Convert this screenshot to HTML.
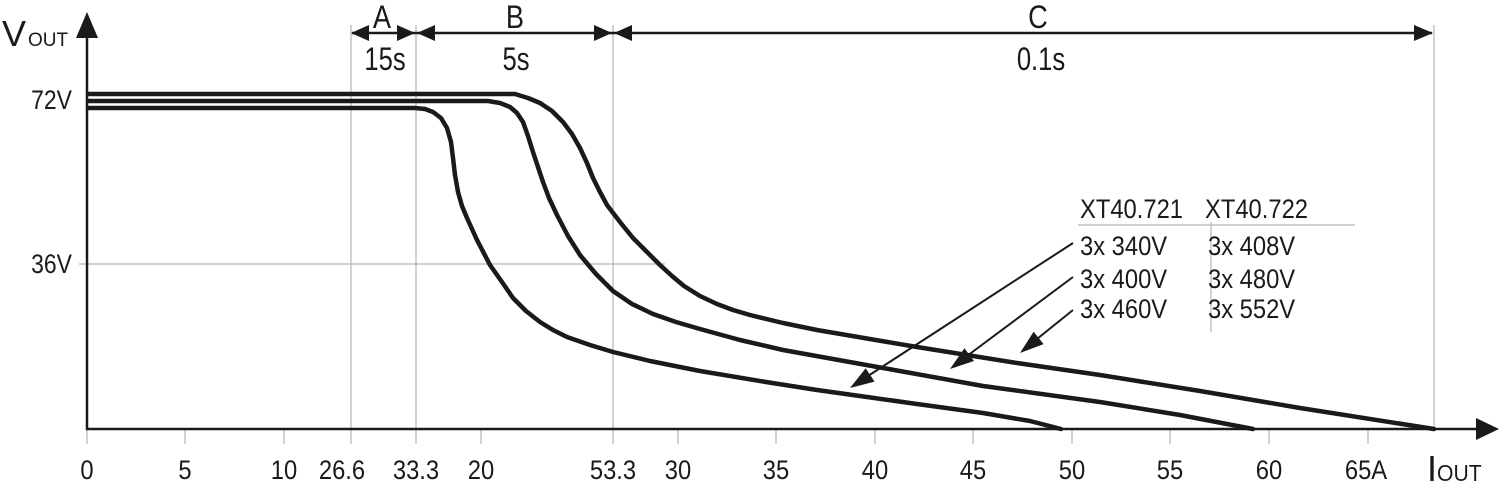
<!DOCTYPE html>
<html>
<head>
<meta charset="utf-8">
<style>
html,body{margin:0;padding:0;background:#fff;}
svg{display:block;}
text{font-family:"Liberation Sans",sans-serif;fill:#1a1a1a;}
</style>
</head>
<body>
<svg width="1500" height="495" viewBox="0 0 1500 495" xmlns="http://www.w3.org/2000/svg">
<rect width="1500" height="495" fill="#fff"/>

<!-- gray grid/reference lines -->
<g stroke="#b4b4b4" stroke-width="1.2" fill="none">
  <line x1="351" y1="25" x2="351" y2="444"/>
  <line x1="416" y1="25" x2="416" y2="444"/>
  <line x1="613" y1="25" x2="613" y2="444"/>
  <line x1="1434" y1="25" x2="1434" y2="429"/>
  <line x1="79" y1="264" x2="665" y2="264"/>
  <!-- ticks -->
  <line x1="87" y1="429" x2="87" y2="444"/>
  <line x1="185" y1="429" x2="185" y2="444"/>
  <line x1="284" y1="429" x2="284" y2="444"/>
  <line x1="481" y1="429" x2="481" y2="444"/>
  <line x1="678" y1="429" x2="678" y2="444"/>
  <line x1="776" y1="429" x2="776" y2="444"/>
  <line x1="875" y1="429" x2="875" y2="444"/>
  <line x1="973" y1="429" x2="973" y2="444"/>
  <line x1="1072" y1="429" x2="1072" y2="444"/>
  <line x1="1170" y1="429" x2="1170" y2="444"/>
  <line x1="1269" y1="429" x2="1269" y2="444"/>
  <line x1="1368" y1="429" x2="1368" y2="444"/>
  <!-- legend lines -->
  <line x1="1078" y1="225" x2="1355" y2="225"/>
  <line x1="1211" y1="222" x2="1211" y2="332"/>
</g>

<!-- axes -->
<g stroke="#1a1a1a" stroke-width="2.5" fill="none">
  <line x1="87" y1="34" x2="87" y2="430"/>
  <line x1="86" y1="429" x2="1480" y2="429"/>
</g>
<polygon points="87,12 76,38 98,38" fill="#1a1a1a"/>
<polygon points="1499,429 1476,418 1476,440" fill="#1a1a1a"/>

<!-- dimension arrows -->
<line x1="352" y1="33" x2="1432" y2="33" stroke="#1a1a1a" stroke-width="2.5"/>
<g fill="#1a1a1a">
  <polygon points="351,33 369,25 369,41"/>
  <polygon points="415,33 397,25 397,41"/>
  <polygon points="417,33 435,25 435,41"/>
  <polygon points="612,33 594,25 594,41"/>
  <polygon points="614,33 632,25 632,41"/>
  <polygon points="1433,33 1414,25 1414,41"/>
</g>

<!-- curves -->
<g stroke="#1a1a1a" stroke-width="4.5" fill="none" stroke-linejoin="round" stroke-linecap="round">
  <polyline points="88,108 415,108 425,109 433,112 441,118 447,128 451,142 453,158 455,175 458,192 462,206 467,218 477,240 490,265 502,282 513,298 526,311 540,322 553,330 567,337 590,345 613,352 650,361 700,371 766,382 817,390 867,397 917,404 983,413 1030,421 1061,429"/>
  <polyline points="88,101 488,101 500,103 510,107 517,113 523,122 528,136 533,152 538,167 543,182 549,198 557,215 568,236 580,255 596,274 613,291 632,304 653,314 676,322 700,329 740,340 783,350 883,368 983,386 1100,402 1180,415 1253,429"/>
  <polyline points="88,94 515,94 528,98 540,103 552,111 563,122 572,134 580,148 587,163 593,178 600,192 607,205 620,222 633,238 647,252 660,265 672,276 684,286 700,296 717,304 733,310 750,315 783,323 817,330 917,347 1017,363 1100,375 1200,391 1300,408 1434,429"/>
</g>

<!-- pointer arrows -->
<g stroke="#1a1a1a" stroke-width="2" fill="none">
  <line x1="1073" y1="243" x2="868" y2="376"/>
  <line x1="1073" y1="277" x2="967" y2="356"/>
  <line x1="1073" y1="310" x2="1037" y2="339"/>
</g>
<g fill="#1a1a1a">
  <polygon points="850,388 874.5,381.6 865.7,368.2"/>
  <polygon points="950,369 974,361 964.4,348.2"/>
  <polygon points="1020,353 1043.6,344.1 1033.6,331.7"/>
</g>

<!-- axis titles -->
<text x="2" y="46" font-size="36">V</text>
<text x="28" y="46" font-size="19">OUT</text>
<text x="1427" y="481" font-size="36">I</text>
<text transform="translate(1437,481) scale(0.92,1)" font-size="23">OUT</text>

<!-- y labels -->
<text transform="translate(72,109) scale(0.85,1)" font-size="27" text-anchor="end">72V</text>
<text transform="translate(72,273) scale(0.85,1)" font-size="27" text-anchor="end">36V</text>

<!-- dimension labels -->
<text transform="translate(382,28) scale(0.85,1)" font-size="32" text-anchor="middle">A</text>
<text transform="translate(515,28) scale(0.85,1)" font-size="32" text-anchor="middle">B</text>
<text transform="translate(1038,28) scale(0.85,1)" font-size="32" text-anchor="middle">C</text>
<text transform="translate(385,70) scale(0.8,1)" font-size="32" text-anchor="middle">15s</text>
<text transform="translate(516,70) scale(0.8,1)" font-size="32" text-anchor="middle">5s</text>
<text transform="translate(1041,70) scale(0.8,1)" font-size="32" text-anchor="middle">0.1s</text>

<!-- x tick labels -->
<g font-size="27" text-anchor="middle">
  <text transform="translate(87,479) scale(0.88,1)">0</text>
  <text transform="translate(185,479) scale(0.88,1)">5</text>
  <text transform="translate(284,479) scale(0.88,1)">10</text>
  <text transform="translate(342,479) scale(0.88,1)">26.6</text>
  <text transform="translate(416,479) scale(0.88,1)">33.3</text>
  <text transform="translate(481,479) scale(0.88,1)">20</text>
  <text transform="translate(613,479) scale(0.88,1)">53.3</text>
  <text transform="translate(678,479) scale(0.88,1)">30</text>
  <text transform="translate(776,479) scale(0.88,1)">35</text>
  <text transform="translate(875,479) scale(0.88,1)">40</text>
  <text transform="translate(973,479) scale(0.88,1)">45</text>
  <text transform="translate(1072,479) scale(0.88,1)">50</text>
  <text transform="translate(1170,479) scale(0.88,1)">55</text>
  <text transform="translate(1269,479) scale(0.88,1)">60</text>
  <text transform="translate(1366,479) scale(0.88,1)">65A</text>
</g>

<!-- legend -->
<g font-size="27">
  <text transform="translate(1080,218) scale(0.88,1)">XT40.721</text>
  <text transform="translate(1205,218) scale(0.88,1)">XT40.722</text>
  <text transform="translate(1080,255) scale(0.88,1)">3x 340V</text>
  <text transform="translate(1080,288) scale(0.88,1)">3x 400V</text>
  <text transform="translate(1080,318) scale(0.88,1)">3x 460V</text>
  <text transform="translate(1208,255) scale(0.88,1)">3x 408V</text>
  <text transform="translate(1208,288) scale(0.88,1)">3x 480V</text>
  <text transform="translate(1208,318) scale(0.88,1)">3x 552V</text>
</g>
</svg>
</body>
</html>
